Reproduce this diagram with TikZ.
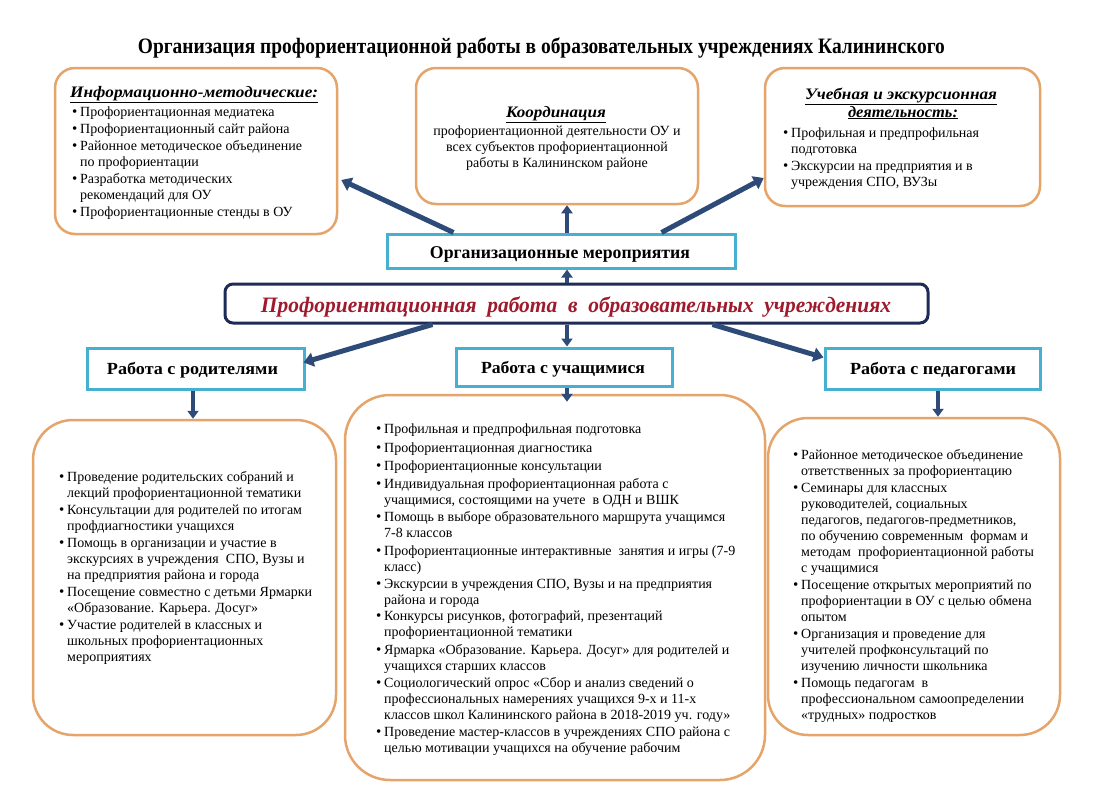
\documentclass[tikz,border=0pt]{standalone}
\usepackage{fontspec}
\setmainfont{Liberation Serif}
\usetikzlibrary{arrows.meta,calc}
\definecolor{boxor}{HTML}{E5A46A}
\definecolor{cyanb}{HTML}{45B0CF}
\definecolor{navy}{HTML}{1F2B57}
\definecolor{arr}{HTML}{2D4A78}
\definecolor{maintext}{HTML}{9E1A2C}
\newcommand{\bl}{\makebox[8pt][l]{\fontsize{15}{15}\selectfont\raisebox{0pt}{•}}}
\newcommand{\ct}{\hspace*{8pt}}
\newcommand{\fitw}[2]{\resizebox{#1}{\height}{#2}}
\newcommand{\isep}{1pt}
\newcommand{\bodyfont}{\fontsize{14}{16}\selectfont\lineskiplimit=-20pt\relax}
\tikzset{
  obox/.style={draw=boxor, line width=2.5pt, rounded corners=#1, fill=white, inner sep=0},
  cbox/.style={draw=cyanb, line width=3pt, fill=white, inner sep=0},
  body/.style={font=\bodyfont, align=left, anchor=north west, inner sep=0},
  lbl/.style={inner sep=0, anchor=base},
  bigarrow/.style={draw=arr, line width=5pt, -{Triangle[length=10pt,width=14pt]}},
  smallarrow/.style={draw=arr, line width=4pt, -{Triangle[length=8pt,width=11pt]}},
}
\begin{document}
\begin{tikzpicture}[x=1pt,y=-1pt]
\useasboundingbox (0,0) rectangle (1093,790);
\fill[white] (0,0) rectangle (1093,790);

% title
\node[lbl] (title) at (541.5,53) {\fitw{807pt}{\fontsize{22}{22}\selectfont\bfseries Организация профориентационной работы в образовательных учреждениях Калининского}};

% top boxes
\node[obox=20pt, minimum width=282, minimum height=166] (tl) at (196,151) {};
\node[obox=20pt, minimum width=282, minimum height=136] (tm) at (557,136) {};
\node[obox=20pt, minimum width=275, minimum height=138] (tr) at (902.5,137) {};

% org / main / category boxes
\node[cbox, minimum width=348, minimum height=34] (org) at (561,251) {};
\node[draw=navy, line width=3pt, rounded corners=8pt, fill=white, inner sep=0, minimum width=703, minimum height=39] (main) at (576.5,303.5) {};
\node[cbox, minimum width=217, minimum height=41] (par) at (195.5,368.5) {};
\node[cbox, minimum width=216, minimum height=38] (stu) at (564,367) {};
\node[cbox, minimum width=215, minimum height=41] (ped) at (932.5,368.5) {};

% bottom boxes
\node[obox=40pt, minimum width=303, minimum height=315] (blb) at (184.5,577.5) {};
\node[obox=45pt, minimum width=420, minimum height=385] (bmb) at (555,587.5) {};
\node[obox=40pt, minimum width=292, minimum height=317] (brb) at (914,576.5) {};

% labels
\node[lbl] (orgt) at (560,258) {\fitw{260pt}{\fontsize{18}{18}\selectfont\bfseries Организационные мероприятия}};
\node[lbl, text=maintext] (maint) at (576,312) {\fitw{630pt}{\fontsize{22}{22}\selectfont\bfseries\itshape Профориентационная\ \ работа\ \ в\ \ образовательных\ \ учреждениях}};
\node[lbl] (part) at (192.5,374) {\fitw{171pt}{\fontsize{17}{17}\selectfont\bfseries Работа с родителями}};
\node[lbl] (stut) at (563,373) {\fitw{164pt}{\fontsize{17}{17}\selectfont\bfseries Работа с учащимися}};
\node[lbl] (pedt) at (933,374) {\fitw{166pt}{\fontsize{17}{17}\selectfont\bfseries Работа с педагогами}};

% top-left content
\node[lbl, anchor=base west] (tlh) at (70,97) {\fitw{248pt}{\fontsize{16}{16}\selectfont\bfseries\itshape\underline{Информационно-методические:}}};
\node[body] (tlt) at (72,107) {\bl Профориентационная медиатека\\[\isep]
\bl Профориентационный сайт района\\[\isep]
\bl Районное методическое объединение\\
\ct по профориентации\\[\isep]
\bl Разработка методических\\
\ct рекомендаций для ОУ\\[\isep]
\bl Профориентационные стенды в ОУ};

% top-middle content
\node[lbl] (tmh) at (556,117) {\fitw{100pt}{\fontsize{16}{16}\selectfont\bfseries\itshape\underline{Координация}}};
\node[body, anchor=north, align=center] (tmt) at (557,126) {профориентационной деятельности ОУ и\\
всех субъектов профориентационной\\
работы в Калининском районе};

% top-right content
\node[lbl] (trh1) at (901,99) {\fitw{192pt}{\fontsize{16}{16}\selectfont\bfseries\itshape\underline{Учебная и экскурсионная}}};
\node[lbl] (trh2) at (903,117) {\fitw{110pt}{\fontsize{16}{16}\selectfont\bfseries\itshape\underline{деятельность:}}};
\node[body] (trt) at (783,128) {\bl Профильная и предпрофильная\\
\ct подготовка\\[\isep]
\bl Экскурсии на предприятия и в\\
\ct учреждения СПО, ВУЗы};

% bottom-left content
\node[body] (blt) at (59,471) {\bl Проведение родительских собраний и\\
\ct лекций профориентационной тематики\\[\isep]
\bl Консультации для родителей по итогам\\
\ct профдиагностики учащихся\\[\isep]
\bl Помощь в организации и участие в\\
\ct экскурсиях в учреждения~ СПО, Вузы и\\
\ct на предприятия района и города\\[\isep]
\bl Посещение совместно с детьми Ярмарки\\
\ct «Образование. Карьера. Досуг»\\[\isep]
\bl Участие родителей в классных и\\
\ct школьных профориентационных\\
\ct мероприятиях};

% bottom-middle content
\node[body] (bmt) at (376,424) {\bl Профильная и предпрофильная подготовка\\[2.5pt]
\bl Профориентационная диагностика\\[2pt]
\bl Профориентационные консультации\\[2pt]
\bl Индивидуальная профориентационная работа с\\
\ct учащимися, состоящими на учете~ в ОДН и ВШК\\[1.5pt]
\bl Помощь в выборе образовательного маршрута учащимся\\
\ct 7-8 классов\\[1.2pt]
\bl Профориентационные интерактивные~ занятия и игры (7-9\\
\ct класс)\\[1.2pt]
\bl Экскурсии в учреждения СПО, Вузы и на предприятия\\
\ct района и города\\[0.5pt]
\bl Конкурсы рисунков, фотографий, презентаций\\
\ct профориентационной тематики\\[1.2pt]
\bl Ярмарка «Образование. Карьера. Досуг» для родителей и\\
\ct учащихся старших классов\\[1.2pt]
\bl Социологический опрос «Сбор и анализ сведений о\\
\ct профессиональных намерениях учащихся 9-х и 11-х\\
\ct классов школ Калининского района в 2018-2019 уч. году»\\[1.2pt]
\bl Проведение мастер-классов в учреждениях СПО района с\\
\ct целью мотивации учащихся на обучение рабочим};

% bottom-right content
\node[body] (brt) at (793,449) {\bl Районное методическое объединение\\
\ct ответственных за профориентацию\\[\isep]
\bl Семинары для классных\\
\ct руководителей, социальных\\
\ct педагогов, педагогов-предметников,\\
\ct по обучению современным~ формам и\\
\ct методам~ профориентационной работы\\
\ct с учащимися\\[\isep]
\bl Посещение открытых мероприятий по\\
\ct профориентации в ОУ с целью обмена\\
\ct опытом\\[\isep]
\bl Организация и проведение для\\
\ct учителей профконсультаций по\\
\ct изучению личности школьника\\[\isep]
\bl Помощь педагогам~ в\\
\ct профессиональном самоопределении\\
\ct «трудных» подростков};

% arrows
\draw[bigarrow] ([xshift=68pt]org.north west) -- ([xshift=3pt,yshift=-29pt]tl.east);
\draw[bigarrow] ([xshift=-75pt]org.north east) -- ([yshift=-41pt]tr.west);
\draw[smallarrow] ([xshift=6pt]org.north) -- ([xshift=10pt]tm.south);
\draw[smallarrow] ([xshift=-9.5pt]main.north) -- ([xshift=6pt]org.south);
\draw[bigarrow] ([xshift=-144pt]main.south) -- ([xshift=-2pt,yshift=6pt]par.east);
\draw[bigarrow] ([xshift=136pt]main.south) -- ([yshift=11pt]ped.west);
\draw[smallarrow] ([xshift=-9.5pt]main.south) -- ([xshift=3pt]stu.north);
\draw[smallarrow] ([xshift=-2.5pt]par.south) -- ([xshift=8.5pt]blb.north);
\draw[smallarrow] ([xshift=3pt]stu.south) -- ([xshift=12pt,yshift=-8pt]bmb.north);
\draw[smallarrow] ([xshift=5.5pt]ped.south) -- ([xshift=24pt]brb.north);
\end{tikzpicture}
\end{document}
